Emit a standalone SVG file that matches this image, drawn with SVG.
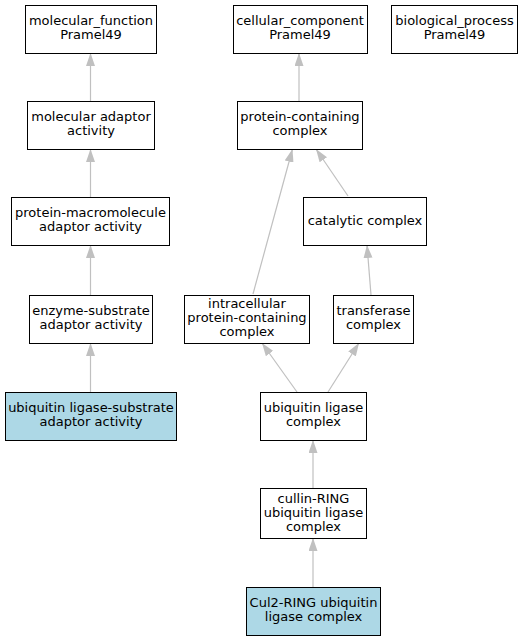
<svg xmlns="http://www.w3.org/2000/svg" width="523" height="640" viewBox="0 0 523 640">
<defs>
<marker id="ah" viewBox="0 0 13 9" refX="13" refY="4.5" markerWidth="13" markerHeight="9" markerUnits="userSpaceOnUse" orient="auto">
<path d="M0,0 L13,4.5 L0,9 Z" fill="#c0c0c0"/>
</marker>
</defs>
<style>
rect{fill:#fff;stroke:#000;stroke-width:1}
rect.hl{fill:#add8e6}
text{font-family:"DejaVu Sans",sans-serif;font-size:13px;text-anchor:middle;fill:#000}
.e line{stroke:#c0c0c0;stroke-width:1.2;marker-end:url(#ah)}
</style>
<rect x="0" y="0" width="523" height="640" style="fill:#fff;stroke:none"/>
<g class="e" id="edges">
<line x1="90.5" y1="101" x2="90.5" y2="53"/>
<line x1="90.5" y1="197" x2="90.5" y2="149"/>
<line x1="90.5" y1="295" x2="90.5" y2="245"/>
<line x1="90.5" y1="392" x2="90.5" y2="343"/>
<line x1="299" y1="101" x2="299" y2="53"/>
<line x1="253" y1="294" x2="292.5" y2="149"/>
<line x1="348" y1="196" x2="316" y2="149"/>
<line x1="371" y1="295" x2="367" y2="245"/>
<line x1="297" y1="392" x2="262" y2="343"/>
<line x1="328" y1="392" x2="359" y2="343"/>
<line x1="313" y1="488" x2="313" y2="440"/>
<line x1="313" y1="587" x2="313" y2="538"/>
</g>
<g id="n_mf"><rect x="25.5" y="5.5" width="131" height="48"/><text x="91" y="25">molecular_function</text><text x="91" y="39">Pramel49</text></g>
<g id="n_cc"><rect x="233.5" y="5.5" width="134" height="48"/><text x="300" y="25">cellular_component</text><text x="300" y="39">Pramel49</text></g>
<g id="n_bp"><rect x="391.5" y="5.5" width="126" height="48"/><text x="454.5" y="25">biological_process</text><text x="454.5" y="39">Pramel49</text></g>
<g id="n_mad"><rect x="27.5" y="101.5" width="127" height="48"/><text x="91" y="121">molecular adaptor</text><text x="91" y="135">activity</text></g>
<g id="n_pcc"><rect x="237.5" y="101.5" width="125" height="48"/><text x="300" y="121">protein-containing</text><text x="300" y="135">complex</text></g>
<g id="n_pma"><rect x="11.5" y="197.5" width="158" height="48"/><text x="90.5" y="217">protein-macromolecule</text><text x="90.5" y="231">adaptor activity</text></g>
<g id="n_cat"><rect x="303.5" y="197.5" width="123" height="48"/><text x="365" y="225">catalytic complex</text></g>
<g id="n_esa"><rect x="29.5" y="295.5" width="123" height="48"/><text x="91" y="315">enzyme-substrate</text><text x="91" y="329">adaptor activity</text></g>
<g id="n_ipc"><rect x="184.5" y="295.5" width="125" height="48"/><text x="247" y="308">intracellular</text><text x="247" y="322">protein-containing</text><text x="247" y="336">complex</text></g>
<g id="n_tc"><rect x="333.5" y="295.5" width="80" height="48"/><text x="373.5" y="315">transferase</text><text x="373.5" y="329">complex</text></g>
<g id="n_ulsa"><rect class="hl" x="5.5" y="392.5" width="171" height="48"/><text x="91" y="412">ubiquitin ligase-substrate</text><text x="91" y="426">adaptor activity</text></g>
<g id="n_ulc"><rect x="260.5" y="392.5" width="106" height="48"/><text x="313.5" y="412">ubiquitin ligase</text><text x="313.5" y="426">complex</text></g>
<g id="n_crl"><rect x="260.5" y="488.5" width="106" height="50"/><text x="313.5" y="503">cullin-RING</text><text x="313.5" y="517">ubiquitin ligase</text><text x="313.5" y="531">complex</text></g>
<g id="n_cul2"><rect class="hl" x="246.5" y="587.5" width="134" height="48"/><text x="313.5" y="607">Cul2-RING ubiquitin</text><text x="313.5" y="621">ligase complex</text></g>
</svg>
